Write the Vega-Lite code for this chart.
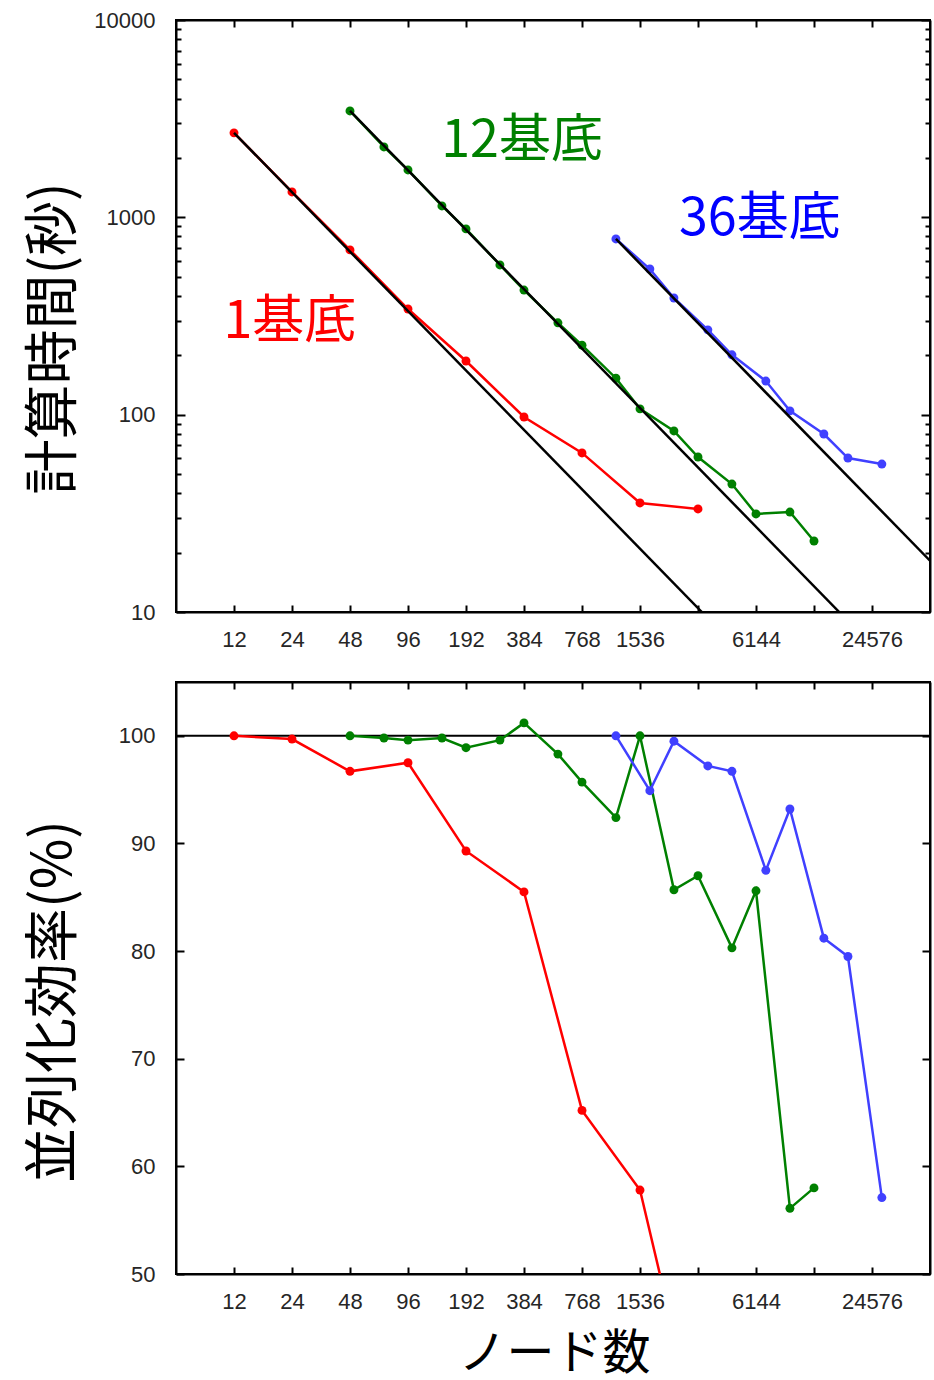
{
  "$schema": "https://vega.github.io/schema/vega-lite/v6.json",
  "padding": {"left": 25, "top": 8, "right": 2, "bottom": 0},
  "background": "white",
  "spacing": 70,
  "bounds": "flush",
  "config": {
    "view": {"stroke": "black", "strokeWidth": 2},
    "axis": {"grid": false, "domainColor": "black", "domainWidth": 2, "tickColor": "black", "tickWidth": 2,
      "labelFont": "Liberation Sans", "labelFontSize": 22, "labelColor": "#262626",
      "titleFont": "Noto Sans CJK JP", "titleFontSize": 55, "titleColor": "black", "titleFontWeight": "normal"}
  },
  "datasets": {
    "time": [
      {"s": "1基底", "n": 12, "t": 2680}, {"s": "1基底", "n": 24, "t": 1345}, {"s": "1基底", "n": 48, "t": 684},
      {"s": "1基底", "n": 96, "t": 343}, {"s": "1基底", "n": 192, "t": 187}, {"s": "1基底", "n": 384, "t": 97.3},
      {"s": "1基底", "n": 768, "t": 64}, {"s": "1基底", "n": 1536, "t": 35.7}, {"s": "1基底", "n": 3072, "t": 33.3},
      {"s": "12基底", "n": 48, "t": 3460}, {"s": "12基底", "n": 72, "t": 2274}, {"s": "12基底", "n": 96, "t": 1739},
      {"s": "12基底", "n": 144, "t": 1142}, {"s": "12基底", "n": 192, "t": 874}, {"s": "12基底", "n": 288, "t": 574},
      {"s": "12基底", "n": 384, "t": 428}, {"s": "12基底", "n": 576, "t": 292}, {"s": "12基底", "n": 768, "t": 225},
      {"s": "12基底", "n": 1152, "t": 153}, {"s": "12基底", "n": 1536, "t": 107}, {"s": "12基底", "n": 2304, "t": 82.7},
      {"s": "12基底", "n": 3072, "t": 61}, {"s": "12基底", "n": 4608, "t": 44.5}, {"s": "12基底", "n": 6144, "t": 31.4},
      {"s": "12基底", "n": 9216, "t": 32.1}, {"s": "12基底", "n": 12288, "t": 22.9},
      {"s": "36基底", "n": 1152, "t": 777}, {"s": "36基底", "n": 1728, "t": 547}, {"s": "36基底", "n": 2304, "t": 390},
      {"s": "36基底", "n": 3456, "t": 269}, {"s": "36基底", "n": 4608, "t": 201}, {"s": "36基底", "n": 6912, "t": 148},
      {"s": "36基底", "n": 9216, "t": 104.5}, {"s": "36基底", "n": 13824, "t": 79.8}, {"s": "36基底", "n": 18432, "t": 60.3},
      {"s": "36基底", "n": 27648, "t": 56.2}
    ],
    "ideal": [
      {"s": "1基底", "n": 12, "t": 2680}, {"s": "1基底", "n": 3216, "t": 10},
      {"s": "12基底", "n": 48, "t": 3460}, {"s": "12基底", "n": 16608, "t": 10},
      {"s": "36基底", "n": 1152, "t": 777}, {"s": "36基底", "n": 49152, "t": 18.2}
    ],
    "labels": [
      {"label": "1基底", "n": 23.4, "t": 295},
      {"label": "12基底", "n": 375, "t": 2440},
      {"label": "36基底", "n": 6430, "t": 982}
    ],
    "eff": [
      {"s": "1基底", "n": 12, "e": 100}, {"s": "1基底", "n": 24, "e": 99.7}, {"s": "1基底", "n": 48, "e": 96.7},
      {"s": "1基底", "n": 96, "e": 97.5}, {"s": "1基底", "n": 192, "e": 89.3}, {"s": "1基底", "n": 384, "e": 85.5},
      {"s": "1基底", "n": 768, "e": 65.2}, {"s": "1基底", "n": 1536, "e": 57.8}, {"s": "1基底", "n": 3072, "e": 35},
      {"s": "12基底", "n": 48, "e": 100}, {"s": "12基底", "n": 72, "e": 99.8}, {"s": "12基底", "n": 96, "e": 99.6},
      {"s": "12基底", "n": 144, "e": 99.8}, {"s": "12基底", "n": 192, "e": 98.9}, {"s": "12基底", "n": 288, "e": 99.6},
      {"s": "12基底", "n": 384, "e": 101.2}, {"s": "12基底", "n": 576, "e": 98.3}, {"s": "12基底", "n": 768, "e": 95.7},
      {"s": "12基底", "n": 1152, "e": 92.4}, {"s": "12基底", "n": 1536, "e": 100}, {"s": "12基底", "n": 2304, "e": 85.7},
      {"s": "12基底", "n": 3072, "e": 87.0}, {"s": "12基底", "n": 4608, "e": 80.3}, {"s": "12基底", "n": 6144, "e": 85.6},
      {"s": "12基底", "n": 9216, "e": 56.1}, {"s": "12基底", "n": 12288, "e": 58.0},
      {"s": "36基底", "n": 1152, "e": 100}, {"s": "36基底", "n": 1728, "e": 94.9}, {"s": "36基底", "n": 2304, "e": 99.5},
      {"s": "36基底", "n": 3456, "e": 97.2}, {"s": "36基底", "n": 4608, "e": 96.7}, {"s": "36基底", "n": 6912, "e": 87.5},
      {"s": "36基底", "n": 9216, "e": 93.2}, {"s": "36基底", "n": 13824, "e": 81.2}, {"s": "36基底", "n": 18432, "e": 79.5},
      {"s": "36基底", "n": 27648, "e": 57.1}
    ],
    "ref": [{"n0": 6, "n1": 49152, "e": 100}]
  },
  "vconcat": [
    {
      "width": 754, "height": 592,
      "layer": [
        {
          "data": {"name": "labels"},
          "mark": {"type": "text", "font": "Noto Sans CJK JP", "fontSize": 52, "align": "center", "baseline": "middle"},
          "encoding": {
            "x": {"field": "n", "type": "quantitative", "scale": {"type": "log", "base": 2, "domain": [6, 49152], "nice": false}, "axis": null},
            "y": {"field": "t", "type": "quantitative", "scale": {"type": "log", "domain": [10, 10000], "nice": false}, "axis": null},
            "text": {"field": "label"},
            "color": {"field": "label", "type": "nominal", "scale": {"domain": ["1基底", "12基底", "36基底"], "range": ["#ff0000", "#008000", "#0000ff"]}, "legend": null}
          }
        },
        {
          "data": {"name": "time"},
          "mark": {"type": "line", "strokeWidth": 2.5, "clip": true, "point": {"filled": true, "size": 80}},
          "encoding": {
            "x": {"field": "n", "type": "quantitative", "scale": {"type": "log", "base": 2, "domain": [6, 49152], "nice": false},
              "axis": {"orient": "bottom", "title": null, "values": [12, 24, 48, 96, 192, 384, 768, 1536, 3072, 6144, 12288, 24576], "format": "d",
                "labelExpr": "datum.value == 3072 || datum.value == 12288 ? '' : datum.label", "tickSize": -7, "labelPadding": 24}},
            "y": {"field": "t", "type": "quantitative", "scale": {"type": "log", "domain": [10, 10000], "nice": false},
              "axis": {"orient": "left", "title": "計算時間(秒)", "titleX": -94, "titleY": 318,
                "values": [10, 20, 30, 40, 50, 60, 70, 80, 90, 100, 200, 300, 400, 500, 600, 700, 800, 900, 1000, 2000, 3000, 4000, 5000, 6000, 7000, 8000, 9000, 10000],
                "format": "d", "labelExpr": "indexof([10, 100, 1000, 10000], datum.value) >= 0 ? datum.label : ''",
                "tickSize": {"condition": {"test": "indexof([10, 100, 1000, 10000], datum.value) >= 0", "value": -9}, "value": -5},
                "labelPadding": 30}},
            "color": {"field": "s", "type": "nominal", "scale": {"domain": ["1基底", "12基底", "36基底"], "range": ["#ff0000", "#008000", "#4040ff"]}, "legend": null}
          }
        },
        {
          "data": {"name": "ideal"},
          "mark": {"type": "line", "color": "black", "strokeWidth": 2.5, "clip": true},
          "encoding": {
            "x": {"field": "n", "type": "quantitative", "scale": {"type": "log", "base": 2, "domain": [6, 49152], "nice": false},
              "axis": {"orient": "top", "title": null, "labels": false, "values": [12, 24, 48, 96, 192, 384, 768, 1536, 3072, 6144, 12288, 24576], "tickSize": -7}},
            "y": {"field": "t", "type": "quantitative", "scale": {"type": "log", "domain": [10, 10000], "nice": false},
              "axis": {"orient": "right", "title": null, "labels": false,
                "values": [10, 20, 30, 40, 50, 60, 70, 80, 90, 100, 200, 300, 400, 500, 600, 700, 800, 900, 1000, 2000, 3000, 4000, 5000, 6000, 7000, 8000, 9000, 10000],
                "tickSize": {"condition": {"test": "indexof([10, 100, 1000, 10000], datum.value) >= 0", "value": -9}, "value": -5}}},
            "detail": {"field": "s"}
          }
        }
      ],
      "resolve": {"axis": {"x": "independent", "y": "independent"}, "scale": {"color": "independent"}}
    },
    {
      "width": 754, "height": 592,
      "layer": [
        {
          "data": {"name": "ref"},
          "mark": {"type": "rule", "color": "black", "strokeWidth": 2},
          "encoding": {
            "x": {"field": "n0", "type": "quantitative", "scale": {"type": "log", "base": 2, "domain": [6, 49152], "nice": false},
              "axis": {"orient": "top", "title": null, "labels": false, "values": [12, 24, 48, 96, 192, 384, 768, 1536, 3072, 6144, 12288, 24576], "tickSize": -7}},
            "x2": {"field": "n1"},
            "y": {"field": "e", "type": "quantitative", "scale": {"domain": [50, 105], "nice": false, "zero": false},
              "axis": {"orient": "right", "title": null, "labels": false, "values": [50, 60, 70, 80, 90, 100], "tickSize": -8}}
          }
        },
        {
          "data": {"name": "eff"},
          "mark": {"type": "line", "strokeWidth": 2.5, "clip": true, "point": {"filled": true, "size": 80}},
          "encoding": {
            "x": {"field": "n", "type": "quantitative", "scale": {"type": "log", "base": 2, "domain": [6, 49152], "nice": false},
              "axis": {"orient": "bottom", "title": "ノード数", "titleFontSize": 48, "titleX": 378, "titleY": 56, "values": [12, 24, 48, 96, 192, 384, 768, 1536, 3072, 6144, 12288, 24576], "format": "d",
                "labelExpr": "datum.value == 3072 || datum.value == 12288 ? '' : datum.label", "tickSize": -7, "labelPadding": 24}},
            "y": {"field": "e", "type": "quantitative", "scale": {"domain": [50, 105], "nice": false, "zero": false},
              "axis": {"orient": "left", "title": "並列化効率(%)", "titleX": -94, "titleY": 319, "values": [50, 60, 70, 80, 90, 100], "format": "d", "tickSize": -8, "labelPadding": 29}},
            "color": {"field": "s", "type": "nominal", "scale": {"domain": ["1基底", "12基底", "36基底"], "range": ["#ff0000", "#008000", "#4040ff"]}, "legend": null}
          }
        }
      ],
      "resolve": {"axis": {"x": "independent", "y": "independent"}}
    }
  ]
}
